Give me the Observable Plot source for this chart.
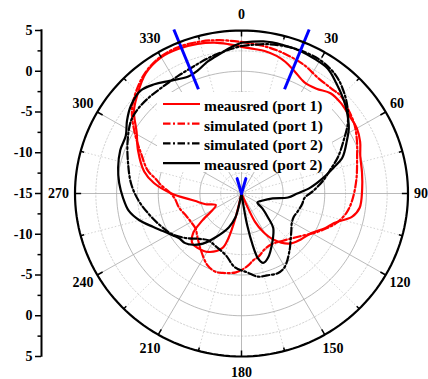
<!DOCTYPE html>
<html>
<head>
<meta charset="utf-8">
<script src="https://cdn.jsdelivr.net/npm/d3@7"></script>
<script src="https://cdn.jsdelivr.net/npm/@observablehq/plot@0.6"></script>
<style>
  body { margin: 0; background: #fff; }
  #chart { width: 428px; height: 379px; }
</style>
</head>
<body>
<div id="chart"></div>
<script>
// Radiation patterns: [angle in degrees clockwise from 0 (top), gain in dB]
const measPort1 = [[0,3.0],[5,2.8],[9,2.7],[14,2.4],[18,2.0],[23,1.3],[29,0.6],[35,0.7],[41,1.3],[47,1.3],[53,1.1],[60,1.0],[66,0.6],[72,0.0],[80,-0.3],[88,-0.5],[97,-0.7],[102,-1.4],[108,-3.3],[113,-4.1],[120,-5.3],[128,-5.9],[137,-6.6],[146,-8.2],[151,-9.6],[155,-11.2],[156.5,-13.5],[157.5,-16],[192,-16],[193.5,-12],[196,-9.3],[199,-7.9],[209,-6.8],[218,-6.5],[224,-6.5],[230,-7.4],[235,-9.3],[245,-11.6],[253,-10.5],[261,-9.3],[270,-6.6],[277,-4.4],[283,-3.0],[293,-1.5],[301,-0.3],[308,1.4],[314,2.4],[322,3.7],[330,4.3],[337,4.3],[344,4.1],[350,3.8],[355,3.4]];

const simPort1 = [[0,3.6],[8,3.3],[15,3.0],[25,2.5],[33,1.9],[40,1.8],[45,1.9],[52,1.4],[58,1.0],[65,0.3],[72,-0.4],[83,-1.1],[94,-1.7],[101,-2.2],[108,-3.1],[113,-4.0],[119,-5.0],[125,-6.0],[130,-6.6],[140,-7.4],[150,-7.8],[158,-7.6],[165,-7.0],[170,-6.7],[176,-6.0],[184,-5.3],[193,-5.0],[198,-4.9],[205,-5.3],[215,-6.5],[225,-7.5],[232,-8.0],[240,-8.0],[248,-7.8],[257,-7.3],[265,-7.0],[270,-6.5],[276,-5.3],[280,-4.5],[284,-3.4],[292,-2.0],[300,-0.2],[308,1.7],[316,3.0],[323,3.9],[330,4.4],[337,4.5],[345,4.3],[352,4.0]];

const simPort2 = [[0,3.1],[10,3.6],[20,3.9],[30,3.9],[38,3.4],[44,2.6],[50,1.6],[56,0.4],[62,-1.1],[69,-2.6],[75,-4.0],[81,-5.1],[88,-6.4],[94,-7.4],[100,-7.6],[108,-7.9],[115,-8.1],[122,-7.9],[127,-7.5],[134,-6.8],[140,-6.0],[150,-4.6],[156,-4.3],[163,-4.5],[169,-4.6],[176,-5.3],[185,-5.9],[194,-7.2],[205,-7.8],[215,-8.0],[222,-7.5],[232,-6.2],[240,-5.2],[250,-4.3],[258,-3.5],[266,-2.6],[275,-1.7],[285,-0.9],[295,0.1],[304,1.0],[310,1.2],[316,1.2],[323,1.15],[332,1.3],[341,1.7],[348,2.2],[355,2.7]];

const measPort2 = [[0,3.5],[8,3.85],[15,3.9],[22,3.85],[28,3.7],[34,3.5],[40,2.7],[47,1.8],[52,1.1],[58,0.2],[63,-0.8],[70,-2.1],[74,-3.5],[79,-5.0],[85,-6.7],[90,-8.3],[95,-9.4],[99,-11.2],[110,-12.4],[120,-12.8],[126,-11.9],[133,-10.6],[138,-9.3],[148,-8.0],[158,-6.5],[163,-6.1],[166,-6.8],[168,-8.5],[170,-11.0],[171,-13.5],[172,-16],[190,-16],[192,-13.3],[194,-12.0],[200,-10.6],[210,-8.8],[217,-7.3],[223,-6.4],[228,-5.9],[234,-5.7],[238,-5.3],[244,-4.5],[249,-3.6],[255,-2.3],[261,-1.3],[268,-0.75],[275,-0.25],[282,0.15],[290,0.5],[297,0.6],[303,1.4],[309,2.1],[316,2.5],[322,2.0],[328,1.3],[336,0.7],[341,1.0],[346,1.7],[352,2.4],[356,3.0]];

const seriesNames = ["meausred (port 1)", "simulated (port 1)", "simulated (port 2)", "meausred (port 2)"];

// Angular tick labels and the radial (dB) scale read along the left axis
const angleTicks = [0, 30, 60, 90, 120, 150, 180, 210, 240, 270, 300, 330];
const radialTickLabels = [5, 0, -5, -10, -15, -10, -5, 0, 5];

// Beam direction markers (degrees)
const beamAngles = [-22, 22];
const centerMarkAngles = [-16, 16];

// ---- geometry helpers ----
const GAIN_MIN = -15, GAIN_MAX = 5;
const RMAX = GAIN_MAX - GAIN_MIN;               // radius in dB units
const rad = Math.PI / 180;
const polar = (a, r) => ({x: r * Math.sin(a * rad), y: r * Math.cos(a * rad)});
const toRadius = g => Math.max(0, g - GAIN_MIN);

function trace(pts) {
  const closed = [...pts, [360, pts[0][1]]];
  return closed.map(([a, g]) => polar(a, toRadius(g)));
}
const ring = r => d3.range(0, 361, 2).map(a => ({r, ...polar(a, r)}));

const pxX = 166.5 / RMAX, pxY = 163 / RMAX;     // pixels per dB unit
const axisX = (41 - 241) / pxX;                 // left radial axis position

const styles = [
  {stroke: "#ff0000", dash: null},
  {stroke: "#ff0000", dash: "7.5,2.5,2,2.5"},
  {stroke: "#000000", dash: "7.5,2.5,2,2.5"},
  {stroke: "#000000", dash: null}
];
const allSeries = [measPort1, simPort1, simPort2, measPort2];

const majorSpokes = angleTicks;
const minorSpokes = angleTicks.map(a => a + 15);

const outerTicks = [
  ...majorSpokes.map(a => ({a, len: 6 / pxY})),
  ...minorSpokes.map(a => ({a, len: 3.5 / pxY}))
];

// angle labels sit just outside the rim, pushed out by their half width
const angleLabelPos = a => {
  const hw = 3.5 * String(a).length;
  return {
    x: Math.sin(a * rad) * (RMAX + (6 + hw) / pxX),
    y: Math.cos(a * rad) * (RMAX + 16 / pxY)
  };
};

const leftTicks = d3.range(-RMAX, RMAX + 0.01, 2.5).map(y => ({y, major: Math.abs(y % 5) < 1e-6}));
const leftLabels = radialTickLabels.map((v, i) => ({y: (i < 4 ? 1 : i > 4 ? -1 : 0) * (v - GAIN_MIN), label: String(v)}));

const serif = "'Liberation Serif', 'Times New Roman', serif";

const chart = Plot.plot({
  width: 428,
  height: 379,
  marginLeft: 74.5,
  marginRight: 20.5,
  marginTop: 30,
  marginBottom: 23,
  x: {domain: [-RMAX, RMAX], axis: null},
  y: {domain: [-RMAX, RMAX], axis: null},
  style: {background: "white", fontFamily: serif, overflow: "visible"},
  marks: [
    // grid
    Plot.line([2.5, 7.5, 12.5, 17.5].flatMap(ring), {x: "x", y: "y", z: "r", stroke: "#c8c8c8", strokeWidth: 0.8, strokeDasharray: "1.5,2"}),
    Plot.link(minorSpokes, {x1: 0, y1: 0, x2: a => polar(a, RMAX).x, y2: a => polar(a, RMAX).y, stroke: "#c8c8c8", strokeWidth: 0.8, strokeDasharray: "1.5,2"}),
    Plot.line([5, 10, 15].flatMap(ring), {x: "x", y: "y", z: "r", stroke: "#a8a8a8", strokeWidth: 0.8}),
    Plot.link(majorSpokes, {x1: 0, y1: 0, x2: a => polar(a, RMAX).x, y2: a => polar(a, RMAX).y, stroke: "#a8a8a8", strokeWidth: 0.8}),
    // patterns
    ...allSeries.map((pts, i) => Plot.line(trace(pts), {
      x: "x", y: "y", curve: "catmull-rom", ariaDescription: "pattern",
      stroke: styles[i].stroke, strokeWidth: 2.2, strokeDasharray: styles[i].dash
    })),
    // beam markers
    Plot.link(beamAngles, {
      x1: a => polar(a, toRadius(-1.2)).x, y1: a => polar(a, toRadius(-1.2)).y,
      x2: a => polar(a, toRadius(6.7)).x, y2: a => polar(a, toRadius(6.7)).y,
      stroke: "#0000ff", strokeWidth: 3
    }),
    Plot.link(centerMarkAngles, {
      x1: 0, y1: 0,
      x2: a => polar(a, 1.9).x, y2: a => polar(a, 1.9).y,
      stroke: "#0000ff", strokeWidth: 3, strokeLinecap: "round"
    }),
    // outer frame and angular ticks
    Plot.line(ring(RMAX), {x: "x", y: "y", stroke: "black", strokeWidth: 2.2}),
    Plot.link(outerTicks, {
      x1: d => polar(d.a, RMAX).x, y1: d => polar(d.a, RMAX).y,
      x2: d => polar(d.a, RMAX - d.len).x, y2: d => polar(d.a, RMAX - d.len).y,
      stroke: "black", strokeWidth: 1.5
    }),
    Plot.text(angleTicks, {
      x: a => angleLabelPos(a).x, y: a => angleLabelPos(a).y, text: a => String(a),
      fontWeight: "bold", fontSize: 14, fill: "black", lineAnchor: "middle", textAnchor: "middle"
    }),
    // left radial axis
    Plot.ruleX([axisX], {y1: -RMAX - 0.1, y2: RMAX + 0.1, stroke: "black", strokeWidth: 2}),
    Plot.ruleY(leftTicks, {y: "y", x1: axisX, x2: d => axisX - (d.major ? 6 : 3.5) / pxX, stroke: "black", strokeWidth: 1.5}),
    Plot.text(leftLabels, {
      x: axisX, y: "y", text: "label", dx: -9, textAnchor: "end", lineAnchor: "middle",
      fontWeight: "bold", fontSize: 14, fill: "black"
    })
  ]
});

// Legend on a white panel, layered above the grid and below the patterns
const legend = d3.create("svg:g").attr("text-anchor", "start");
legend.append("rect").attr("x", 157).attr("y", 92).attr("width", 175).attr("height", 80).attr("fill", "white");
seriesNames.forEach((name, i) => {
  const y = 104 + i * 19.7;
  const line = legend.append("line")
    .attr("x1", 163).attr("x2", 200).attr("y1", y).attr("y2", y)
    .attr("stroke", styles[i].stroke).attr("stroke-width", 2.2);
  if (styles[i].dash) line.attr("stroke-dasharray", styles[i].dash);
  legend.append("text")
    .attr("x", 204).attr("y", y + 1.5)
    .attr("dominant-baseline", "central")
    .attr("font-family", serif).attr("font-weight", "bold").attr("font-size", 15.5)
    .attr("fill", "black").text(name);
});
const firstPattern = chart.querySelector('[aria-description="pattern"]');
if (firstPattern) firstPattern.parentNode.insertBefore(legend.node(), firstPattern);
else chart.appendChild(legend.node());

document.getElementById("chart").append(chart);
</script>
</body>
</html>
